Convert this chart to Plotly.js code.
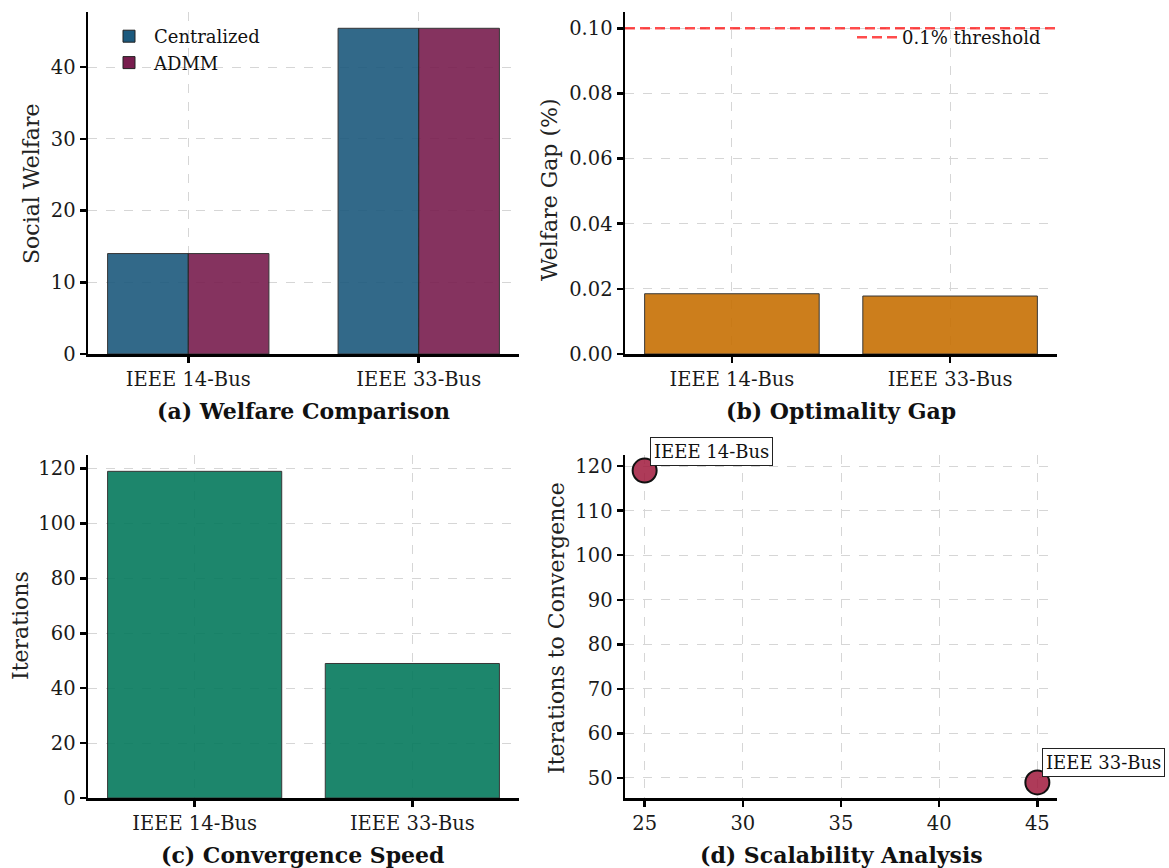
<!DOCTYPE html>
<html>
<head>
<meta charset="utf-8">
<script src="https://cdn.plot.ly/plotly-3.0.1.min.js"></script>
<style>html,body{margin:0;padding:0;background:#fff;}#chart{width:1169px;height:868px;}</style>
</head>
<body>
<div id="chart"></div>
<script>
// ---- data ----
const categories = ["IEEE 14-Bus", "IEEE 33-Bus"];
const welfareCentralized = [14.0, 45.4];
const welfareADMM = [14.0, 45.4];
const welfareGapPct = [0.0185, 0.0178];
const iterations = [119, 49];
const systemSize = [25, 45];
const gapThreshold = 0.1;
const panelTitles = ["(a) Welfare Comparison", "(b) Optimality Gap", "(c) Convergence Speed", "(d) Scalability Analysis"];
const yTitles = ["Social Welfare", "Welfare Gap (%)", "Iterations", "Iterations to Convergence"];

// ---- geometry helpers ----
const W = 1169, H = 868;
const px = v => v / W;
const py = v => 1 - v / H;

const serif = "DejaVu Serif";

function ax(extra) {
  return Object.assign({
    showline: true, linecolor: "black", linewidth: 2.5,
    ticks: "outside", ticklen: 6, tickwidth: 2.5, tickcolor: "black",
    showgrid: true, gridcolor: "#d6d6d6", griddash: "dash", gridwidth: 1,
    zeroline: false, fixedrange: true,
    tickfont: { family: serif, size: 19.5, color: "#1a1a1a" }
  }, extra);
}

const traces = [
  { type: "bar", x: categories, y: welfareCentralized, name: "Centralized",
    xaxis: "x", yaxis: "y", offset: -0.35, width: 0.35,
    marker: { color: "#1C597D", opacity: 0.9, line: { color: "#222", width: 1 } },
    legend: "legend", hoverinfo: "none" },
  { type: "bar", x: categories, y: welfareADMM, name: "ADMM",
    xaxis: "x", yaxis: "y", offset: 0, width: 0.35,
    marker: { color: "#781D4E", opacity: 0.9, line: { color: "#222", width: 1 } },
    legend: "legend", hoverinfo: "none" },
  { type: "bar", x: categories, y: welfareGapPct, name: "gap", showlegend: false,
    xaxis: "x2", yaxis: "y2", width: 0.8,
    marker: { color: "#C77104", opacity: 0.9, line: { color: "#222", width: 1 } }, hoverinfo: "none" },
  { type: "bar", x: categories, y: iterations, name: "iters", showlegend: false,
    xaxis: "x3", yaxis: "y3", width: 0.8,
    marker: { color: "#057A5D", opacity: 0.9, line: { color: "#222", width: 1 } }, hoverinfo: "none" },
  { type: "scatter", mode: "markers", x: systemSize, y: iterations, name: "scal", showlegend: false,
    xaxis: "x4", yaxis: "y4", cliponaxis: false,
    marker: { size: 24, color: "rgba(160,25,60,0.85)", line: { color: "#111", width: 2 } }, hoverinfo: "none" }
];

const annotations = [];
// panel titles (below x axes)
const titlePos = [[303, 411], [841, 411], [303, 855], [841, 855]];
panelTitles.forEach((t, i) => annotations.push({
  text: "<b>" + t + "</b>", xref: "paper", yref: "paper",
  x: px(titlePos[i][0]), y: py(titlePos[i][1]), xanchor: "center", yanchor: "middle",
  showarrow: false, font: { family: serif, size: 22, color: "#111" }
}));
// y-axis titles
const yTitlePos = [[32, 184], [549, 190], [20, 626], [556, 628]];
yTitles.forEach((t, i) => annotations.push({
  text: t, xref: "paper", yref: "paper", textangle: -90,
  x: px(yTitlePos[i][0]), y: py(yTitlePos[i][1]), xanchor: "center", yanchor: "middle",
  showarrow: false, font: { family: serif, size: 22, color: "#222" }
}));
// point labels in panel (d)
categories.forEach((c, i) => annotations.push({
  text: c, xref: "x4", yref: "y4", x: systemSize[i], y: iterations[i],
  xanchor: "left", yanchor: "bottom", xshift: 5, yshift: 5, showarrow: false,
  bgcolor: "white", bordercolor: "#222", borderwidth: 1, borderpad: 3,
  font: { family: serif, size: 18, color: "#111" }
}));

const layout = {
  width: W, height: H,
  margin: { l: 0, r: 0, t: 0, b: 0 },
  paper_bgcolor: "white", plot_bgcolor: "white",
  barmode: "group",
  xaxis:  ax({ domain: [px(88), px(519)], anchor: "y", range: [-0.435, 1.435], type: "category" }),
  yaxis:  ax({ domain: [py(354), py(12)], anchor: "x", range: [0, 47.67], dtick: 10 }),
  xaxis2: ax({ domain: [px(625), px(1057)], anchor: "y2", range: [-0.49, 1.49], type: "category" }),
  yaxis2: ax({ domain: [py(354), py(12)], anchor: "x2", range: [0, 0.105], dtick: 0.02, tickformat: ".2f" }),
  xaxis3: ax({ domain: [px(88), px(519)], anchor: "y3", range: [-0.49, 1.49], type: "category" }),
  yaxis3: ax({ domain: [py(798), py(455)], anchor: "x3", range: [0, 124.95], dtick: 20 }),
  xaxis4: ax({ domain: [px(625), px(1057)], anchor: "y4", range: [24, 46], dtick: 5 }),
  yaxis4: ax({ domain: [py(798), py(455)], anchor: "x4", range: [45.5, 122.5], dtick: 10 }),
  showlegend: true,
  legend: { x: px(104), y: py(18), xanchor: "left", yanchor: "top", bgcolor: "rgba(0,0,0,0)",
            font: { family: serif, size: 18, color: "#111" }, itemwidth: 40, tracegroupgap: 0 },
  legend2: { x: px(1046), y: py(19), xanchor: "right", yanchor: "top", bgcolor: "rgba(0,0,0,0)",
             font: { family: serif, size: 18, color: "#111" }, itemwidth: 40 },
  shapes: [{
    type: "line", xref: "x2 domain", x0: 0, x1: 1, yref: "y2", y0: gapThreshold, y1: gapThreshold,
    line: { color: "rgba(255,0,0,0.7)", width: 2.5, dash: "10px,5px" },
    showlegend: true, name: "0.1% threshold", legend: "legend2"
  }],
  annotations: annotations
};

Plotly.newPlot("chart", traces, layout, { staticPlot: true, displayModeBar: false });
</script>
</body>
</html>
